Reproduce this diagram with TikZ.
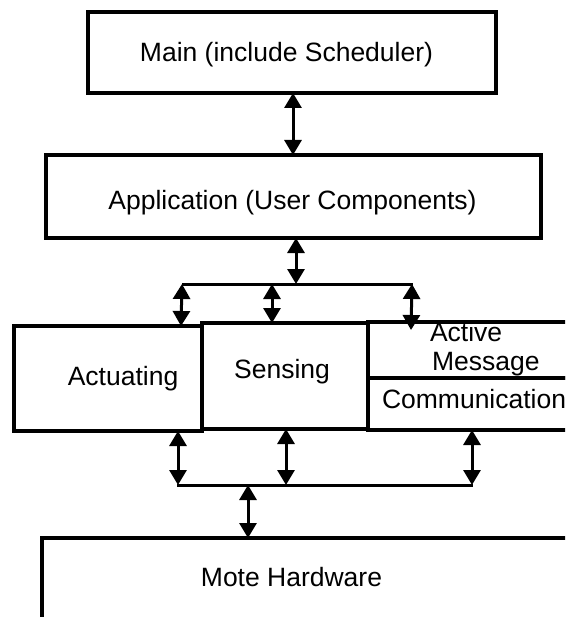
\documentclass[tikz,border=0pt]{standalone}
\usepackage{fontspec}
\setmainfont{Liberation Sans}
\usetikzlibrary{arrows.meta,calc}
\begin{document}
\begin{tikzpicture}[x=1pt,y=-1pt,
  box/.style={draw, line width=3.2pt, inner sep=0pt, outer sep=0pt},
  txt/.style={font=\fontsize{26.5}{30}\selectfont, inner sep=0pt, outer sep=0pt},
  dbl/.style={line width=3pt, {Triangle[length=15pt,width=17pt]}-{Triangle[length=15pt,width=17pt]}},
  bus/.style={line width=3pt}]
  \useasboundingbox (0,0) rectangle (565,617);
  \fill[white] (0,0) rectangle (565,617);
  \clip (0,0) rectangle (565,617);

  % layer boxes
  \node[box, minimum width=408pt, minimum height=81pt] (main) at (292,52.5) {};
  \node[box, minimum width=495pt, minimum height=83pt] (app) at (293.5,196.5) {};
  \node[box, minimum width=188pt, minimum height=105pt] (act) at (108,378.5) {};
  \node[box, minimum width=166pt, minimum height=106pt] (sens) at (285,376) {};
  \node[box, minimum width=232pt, minimum height=56pt] (am) at (484,350) {};
  \node[box, minimum width=232pt, minimum height=52pt] (comm) at (484,404) {};
  \node[box, minimum width=578pt, minimum height=162pt] (mote) at (331,619) {};

  % labels
  \node[txt, anchor=base] (tmain) at (286.5,62) {Main (include Scheduler)};
  \node[txt, anchor=base] (tapp) at (292.5,209.5) {Application (User Components)};
  \node[txt, anchor=base] (tact) at (123,385) {Actuating};
  \node[txt, anchor=base] (tsens) at (282,378) {Sensing};
  \node[txt, anchor=base west] (tam1) at (430,341) {Active};
  \node[txt, anchor=base west] (tam2) at (432,370) {Message};
  \node[txt, anchor=base west] (tcomm) at (382,408) {Communication};
  \node[txt, anchor=base] (tmote) at (291.5,586) {Mote Hardware};

  % upper bus
  \coordinate (ub) at (296,284);
  \coordinate (ubL) at (182,284);
  \coordinate (ubS) at (272,284);
  \coordinate (ubR) at (413,284);
  \coordinate (ubA) at (412,284);
  \draw[bus] (ubL) -- (ubR);

  % lower bus
  \coordinate (lbL) at (177,485);
  \coordinate (lbA) at (178,485);
  \coordinate (lbS) at (286,485);
  \coordinate (lbC) at (472,485);
  \coordinate (lbR) at (473,485);
  \coordinate (lbM) at (248,485);
  \draw[bus] (lbL) -- (lbR);

  % connectors
  \draw[dbl] (main.south -| 293,0) -- (app.north -| 293,0);
  \draw[dbl] (app.south -| ub) -- (ub);
  \draw[dbl] (ubL) -- (act.north -| 181,0);
  \draw[dbl] (ubS) -- (sens.north -| ubS);
  \draw[dbl] (ubA) -- ($(am.north -| 411,0)+(0,8)$);
  \draw[dbl] (act.south -| lbA) -- (lbA);
  \draw[dbl] (sens.south -| lbS) -- (lbS);
  \draw[dbl] (comm.south -| lbC) -- (lbC);
  \draw[dbl] (lbM) -- (mote.north -| lbM);
\end{tikzpicture}
\end{document}
